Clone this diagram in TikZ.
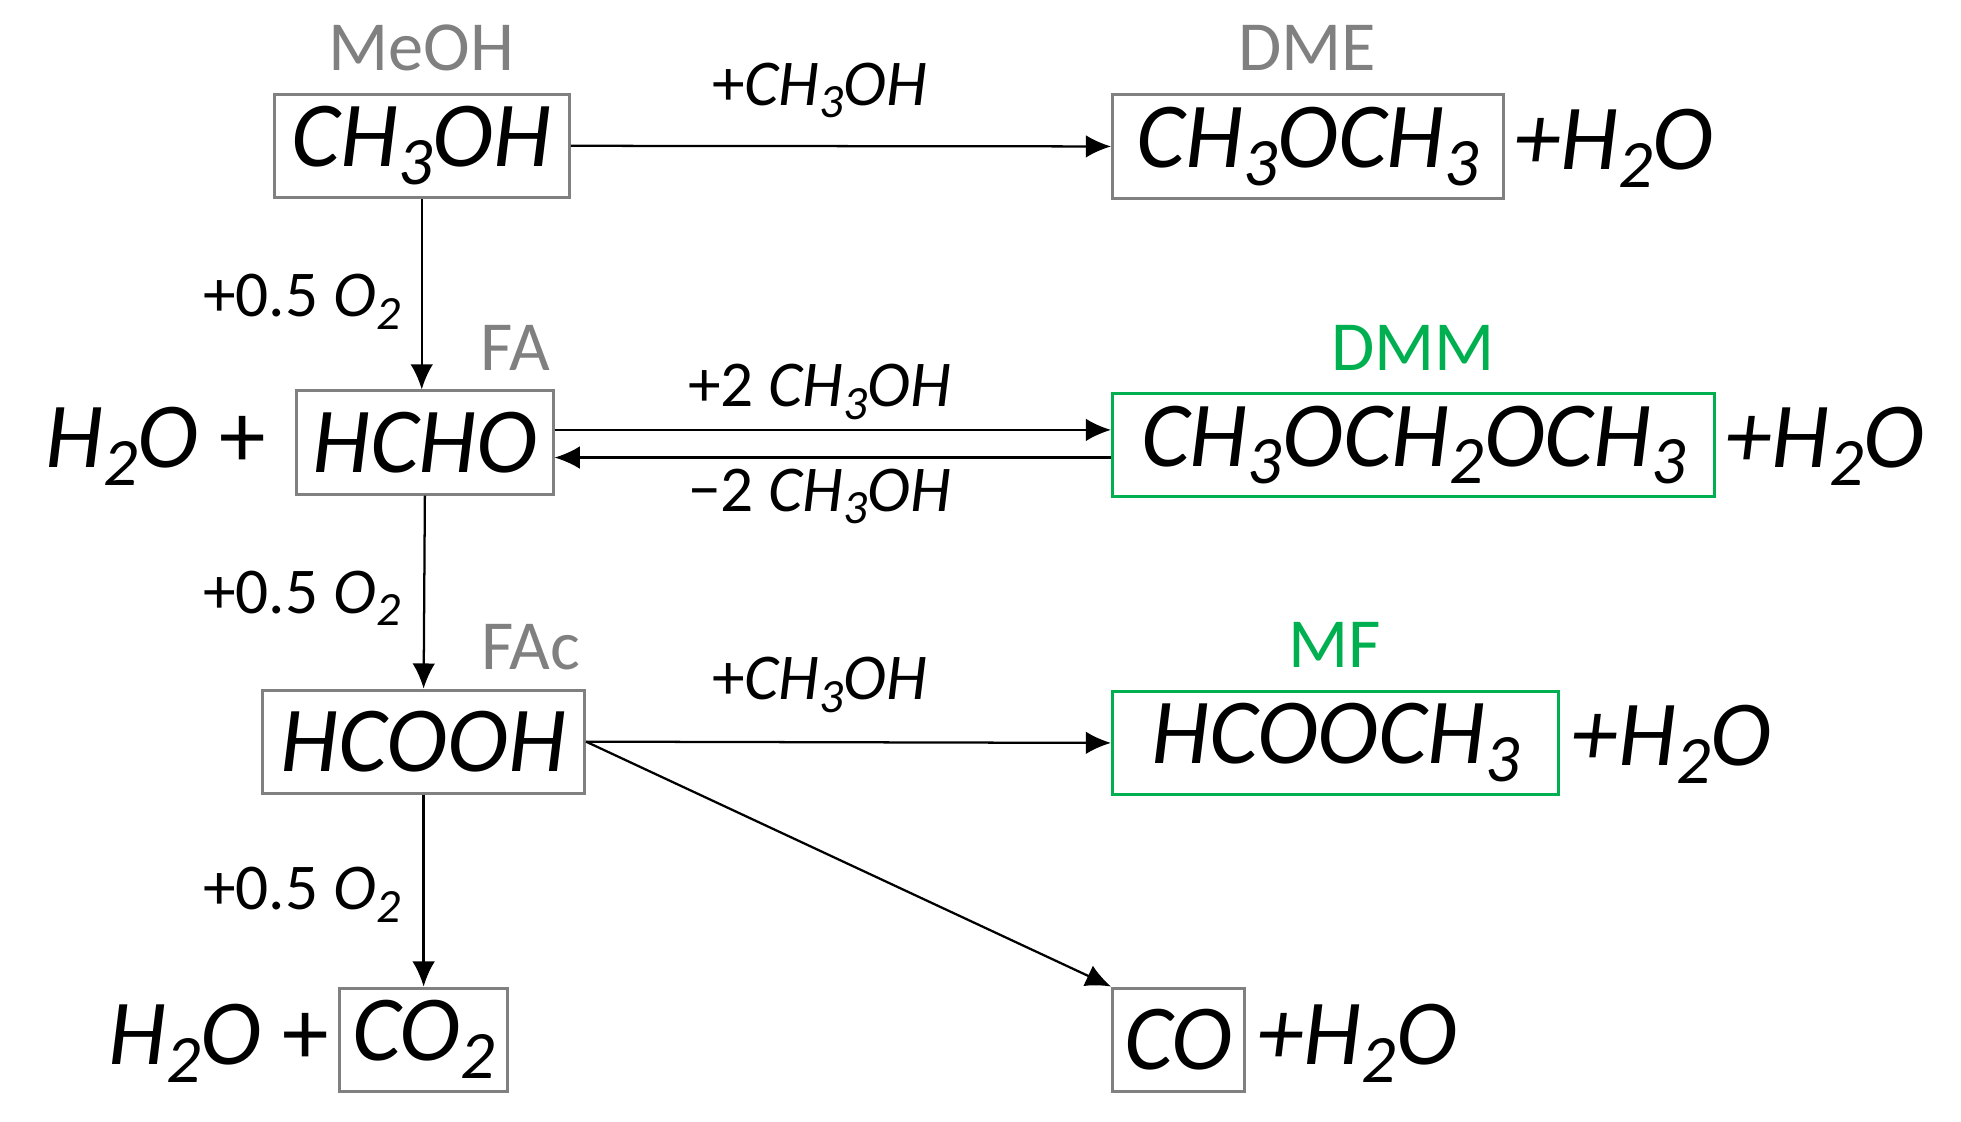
\documentclass[tikz,border=0pt]{standalone}
\usepackage{fontspec}
\setmainfont{Carlito}
\usetikzlibrary{arrows.meta}
\definecolor{gbox}{HTML}{808080}
\definecolor{grn}{HTML}{00B050}
\newcommand\msub[1]{\raisebox{-0.4ex}{\fontsize{27}{27}\selectfont #1}}
\newcommand\ssub[1]{\raisebox{-0.4ex}{\fontsize{19}{19}\selectfont #1}}
\begin{document}
\begin{tikzpicture}[x=0.5pt,y=-0.5pt,
  big/.style={font=\fontsize{37}{37}\selectfont\itshape, inner sep=0pt},
  box/.style={draw=gbox, line width=1.2pt, big, anchor=center},
  gbx/.style={draw=grn, line width=1.2pt, big, anchor=center},
  lab/.style={font=\fontsize{28}{28}\selectfont, text=gbox},
  glab/.style={font=\fontsize{28}{28}\selectfont, text=grn},
  sm/.style={font=\fontsize{26}{26}\selectfont},
  arr/.style={-{Latex[length=10pt,width=9pt]}, line width=0.9pt}]
\useasboundingbox (0,0) rectangle (1560,892);
% boxes
\node[box, minimum width=117.5pt, minimum height=41pt] (meoh) at (335.5,116) {CH\msub{3}OH};
\node[box, minimum width=155.5pt, minimum height=41.5pt] (dme) at (1040.5,116.5) {CH\msub{3}OCH\msub{3}};
\node[box, minimum width=102pt, minimum height=41pt] (fa) at (338,352) {HCHO};
\node[gbx, minimum width=239.5pt, minimum height=41pt] (dmm) at (1124.5,354) {CH\msub{3}OCH\msub{2}OCH\msub{3}};
\node[box, minimum width=128pt, minimum height=41pt] (fac) at (337,590) {HCOOH};
\node[gbx, minimum width=177.5pt, minimum height=41pt] (mf) at (1062.5,591) {HCOOCH\msub{3}};
\node[box, minimum width=67pt, minimum height=41pt] (co2) at (337,827) {CO\msub{2}};
\node[box, minimum width=52.5pt, minimum height=41pt] (co) at (937.5,827) {CO};
% labels
\node[lab] (l1) at (335,38) {MeOH};
\node[lab] (l2) at (1040,38) {DME};
\node[lab] (l3) at (410,277) {FA};
\node[glab] (l4) at (1124,277) {DMM};
\node[lab] (l5) at (422,515) {FAc};
\node[glab] (l6) at (1062,513) {MF};
% side products
\node[big, anchor=west] (w1) at (1204,118) {+H\msub{2}O};
\node[big, anchor=west] (w2) at (1372,355) {+H\msub{2}O};
\node[big, anchor=west] (w3) at (1250,592) {+H\msub{2}O};
\node[big, anchor=west] (w4) at (1000,830) {+H\msub{2}O};
\node[big, anchor=east] (w5) at (212,355) {H\msub{2}O {\upshape+}};
\node[big, anchor=east] (w6) at (262,830) {H\msub{2}O {\upshape+}};
% arrows
\draw[arr] (meoh.east) -- (dme.west);
\draw[arr] ([yshift=5pt]fa.east) -- ([yshift=6pt]dmm.west);
\draw[arr] ([yshift=-5pt]dmm.west) -- ([yshift=-6pt]fa.east);
\draw[arr] (fac.east) -- (mf.west);
\draw[arr] (fac.east) -- (co.north west);
\draw[arr] (meoh.south) -- (meoh.south |- fa.north);
\draw[arr] (fa.south) -- (fac.north);
\draw[arr] (fac.south) -- (co2.north);
% arrow labels
\node[sm] (a1) at (652,72) {+\itshape CH\ssub{3}OH};
\node[sm] (a2) at (652,312) {+2 \itshape CH\ssub{3}OH};
\node[sm] (a3) at (652,395) {\textminus2 \itshape CH\ssub{3}OH};
\node[sm] (a4) at (652,545) {+\itshape CH\ssub{3}OH};
\node[sm] (a5) at (240,240) {+0.5 \itshape O\ssub{2}};
\node[sm] (a6) at (240,476) {+0.5 \itshape O\ssub{2}};
\node[sm] (a7) at (240,712) {+0.5 \itshape O\ssub{2}};
\end{tikzpicture}
\end{document}
